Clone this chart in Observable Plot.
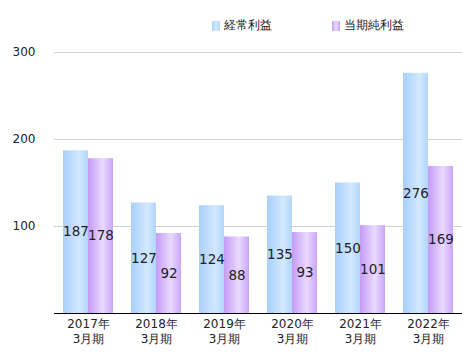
<!DOCTYPE html>
<html>
<head>
<meta charset="utf-8">
<script src="https://cdn.jsdelivr.net/npm/d3@7"></script>
<script src="https://cdn.jsdelivr.net/npm/@observablehq/plot@0.6"></script>
<style>
  body { margin: 0; background: white; font-family: "DejaVu Sans", Verdana, sans-serif; }
  #wrap { position: relative; width: 462px; height: 355px; }
  #legend { position: relative; height: 40px; font-size: 12px; color: #222; }
  .item { position: absolute; top: 17px; display: flex; align-items: center; }
  .sw { width: 8px; height: 10px; margin-right: 4px; }
  #chart { position: absolute; top: 40px; left: 0; }
</style>
</head>
<body>
<div id="wrap">
  <div id="legend"></div>
  <div id="chart"></div>
</div>
<script>
const years = ["2017年\n3月期", "2018年\n3月期", "2019年\n3月期", "2020年\n3月期", "2021年\n3月期", "2022年\n3月期"];
const series = ["経常利益", "当期純利益"];
const ordinaryProfit = [187, 127, 124, 135, 150, 276];
const netProfit = [178, 92, 88, 93, 101, 169];
const yTicks = [100, 200, 300];

const data = years.flatMap((y, i) => [
  {year: y, series: series[0], value: ordinaryProfit[i]},
  {year: y, series: series[1], value: netProfit[i]}
]);

// legend
const legend = document.getElementById("legend");
const legendItems = [
  {name: series[0], left: 212, bg: "linear-gradient(to right,#a8d0fa,#d2e8fe,#b4d7fa)"},
  {name: series[1], left: 332, bg: "linear-gradient(to right,#c8a0f8,#e8d8fc,#c8a0f8)"}
];
legendItems.forEach(it => {
  const d = document.createElement("div");
  d.className = "item";
  d.style.left = it.left + "px";
  d.innerHTML = `<span class="sw" style="background:${it.bg}"></span><span>${it.name}</span>`;
  legend.appendChild(d);
});

const svg = Plot.plot({
  width: 462,
  height: 315,
  marginLeft: 54,
  marginRight: 0,
  marginTop: 12,
  marginBottom: 42,
  style: {fontFamily: "DejaVu Sans, Verdana, sans-serif", fontSize: "12px", color: "#222", background: "white"},
  fx: {domain: years, padding: 0, label: null, axis: null},
  x: {domain: series, paddingInner: 0, paddingOuter: 1/3, axis: null},
  y: {domain: [0, 300], ticks: yTicks, label: null, tickSize: 0, tickPadding: 19},
  color: {domain: series, range: ["url(#gBlue)", "url(#gPurple)"]},
  marks: [
    Plot.ruleY(yTicks, {stroke: "#cfcfcf", strokeWidth: 1.2}),
    Plot.barY(data, {fx: "year", x: "series", y: "value", fill: "series"}),
    Plot.text(data, {fx: "year", x: "series", y: d => d.value / 2, text: "value", fontSize: 13.5, fill: "#1e1e2a"}),
    Plot.ruleY([0], {stroke: "black", strokeWidth: 1.2}),
    Plot.text(years, {fx: d => d, text: d => d, frameAnchor: "bottom", lineAnchor: "top", dy: 4, lineHeight: 1.25, fontSize: 12, fill: "#222"})
  ]
});

d3.select(svg).insert("defs", ":first-child").html(`
  <linearGradient id="gBlue" x1="0" x2="1" y1="0" y2="0">
    <stop offset="0" stop-color="#a8d0fa"/>
    <stop offset="0.65" stop-color="#d2e8fe"/>
    <stop offset="1" stop-color="#b2d6fa"/>
  </linearGradient>
  <linearGradient id="gPurple" x1="0" x2="1" y1="0" y2="0">
    <stop offset="0" stop-color="#c59cf7"/>
    <stop offset="0.6" stop-color="#e9dafd"/>
    <stop offset="1" stop-color="#c9a4f8"/>
  </linearGradient>
`);
document.getElementById("chart").appendChild(svg);
</script>
</body>
</html>
